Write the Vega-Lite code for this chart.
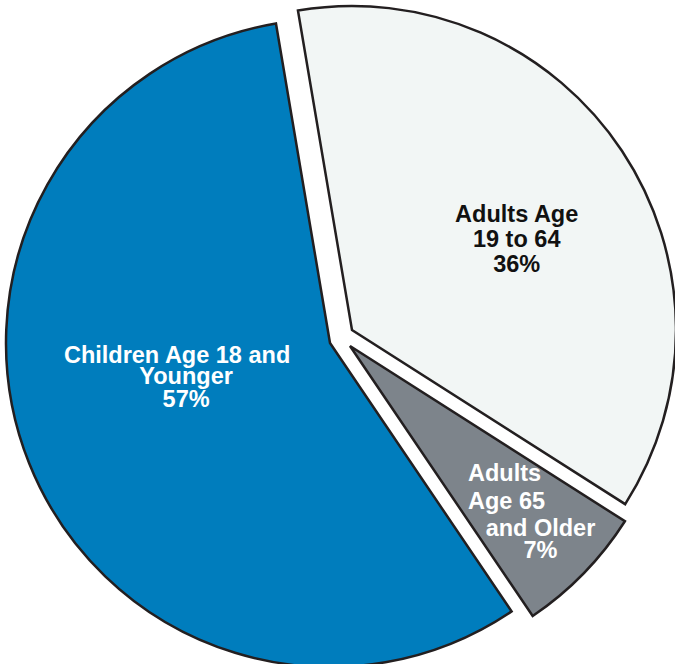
{
  "$schema": "https://vega.github.io/schema/vega-lite/v6.json",
  "width": 680,
  "height": 676,
  "padding": 0,
  "autosize": "none",
  "background": "white",
  "view": {"stroke": null},
  "data": {
    "values": [
      {"category": "Adults Age 19 to 64", "value": 36.7, "label": "Adults Age\n19 to 64\n36%", "label2": ""},
      {"category": "Adults Age 65 and Older", "value": 6.5, "label": "Adults\nAge 65", "label2": "and Older\n7%"},
      {"category": "Children Age 18 and Younger", "value": 56.8, "label": "Children Age 18 and", "label2": "Younger\n57%"}
    ]
  },
  "transform": [
    {"stack": "value", "groupby": [], "sort": [{"field": "category", "order": "ascending"}], "as": ["v0", "v1"]}
  ],
  "layer": [
    {
      "transform": [{"filter": "datum.category === 'Children Age 18 and Younger'"}],
      "mark": {"type": "arc", "radius": 324, "xOffset": -10, "yOffset": 5, "fill": "#007DBD", "stroke": "#231F20", "strokeWidth": 2.5, "strokeJoin": "miter"},
      "encoding": {
        "theta": {"field": "v0", "type": "quantitative", "scale": {"type": "linear", "domain": [0, 100], "range": [-0.1676, 6.1156], "zero": false}},
        "theta2": {"field": "v1"}
      }
    },
    {
      "transform": [{"filter": "datum.category === 'Adults Age 19 to 64'"}],
      "mark": {"type": "arc", "radius": 324, "xOffset": 12, "yOffset": -8, "fill": "#F2F6F5", "stroke": "#231F20", "strokeWidth": 2.5, "strokeJoin": "miter"},
      "encoding": {
        "theta": {"field": "v0", "type": "quantitative", "scale": {"type": "linear", "domain": [0, 100], "range": [-0.1676, 6.1156], "zero": false}},
        "theta2": {"field": "v1"}
      }
    },
    {
      "transform": [{"filter": "datum.category === 'Adults Age 65 and Older'"}],
      "mark": {"type": "arc", "radius": 326, "xOffset": 10, "yOffset": 8, "fill": "#7D848B", "stroke": "#231F20", "strokeWidth": 2.5, "strokeJoin": "miter"},
      "encoding": {
        "theta": {"field": "v0", "type": "quantitative", "scale": {"type": "linear", "domain": [0, 100], "range": [-0.1676, 6.1156], "zero": false}},
        "theta2": {"field": "v1"}
      }
    },
    {
      "mark": {"type": "text", "radius": 200, "dx": 10, "dy": -5.5, "font": "Liberation Sans", "fontWeight": "bold", "fontSize": 23.5, "lineHeight": 25, "align": "center", "baseline": "alphabetic", "lineBreak": "\n", "fill": "#111111"},
      "encoding": {
        "theta": {"field": "value", "type": "quantitative", "stack": true, "scale": {"type": "linear", "domain": [0, 100], "range": [-0.1676, 6.1156], "zero": false}},
        "order": {"field": "category", "sort": "ascending"},
        "text": {"condition": {"test": "datum.category === 'Adults Age 19 to 64'", "field": "label"}, "value": ""}
      }
    },
    {
      "mark": {"type": "text", "radius": 160, "dx": -14.4, "dy": -35, "font": "Liberation Sans", "fontWeight": "bold", "fontSize": 23.5, "lineHeight": 24, "align": "center", "baseline": "alphabetic", "lineBreak": "\n", "fill": "#FFFFFF"},
      "encoding": {
        "theta": {"field": "value", "type": "quantitative", "stack": true, "scale": {"type": "linear", "domain": [0, 100], "range": [-0.1676, 6.1156], "zero": false}},
        "order": {"field": "category", "sort": "ascending"},
        "text": {"condition": {"test": "datum.category === 'Children Age 18 and Younger'", "field": "label"}, "value": ""}
      }
    },
    {
      "mark": {"type": "text", "radius": 160, "dx": -5.4, "dy": -13.9, "font": "Liberation Sans", "fontWeight": "bold", "fontSize": 23.5, "lineHeight": 23.5, "align": "center", "baseline": "alphabetic", "lineBreak": "\n", "fill": "#FFFFFF"},
      "encoding": {
        "theta": {"field": "value", "type": "quantitative", "stack": true, "scale": {"type": "linear", "domain": [0, 100], "range": [-0.1676, 6.1156], "zero": false}},
        "order": {"field": "category", "sort": "ascending"},
        "text": {"condition": {"test": "datum.category === 'Children Age 18 and Younger'", "field": "label2"}, "value": ""}
      }
    },
    {
      "mark": {"type": "text", "radius": 214, "dx": -25.4, "dy": -6.2, "font": "Liberation Sans", "fontWeight": "bold", "fontSize": 23.5, "lineHeight": 28, "align": "left", "baseline": "alphabetic", "lineBreak": "\n", "fill": "#FFFFFF"},
      "encoding": {
        "theta": {"field": "value", "type": "quantitative", "stack": true, "scale": {"type": "linear", "domain": [0, 100], "range": [-0.1676, 6.1156], "zero": false}},
        "order": {"field": "category", "sort": "ascending"},
        "text": {"condition": {"test": "datum.category === 'Adults Age 65 and Older'", "field": "label"}, "value": ""}
      }
    },
    {
      "mark": {"type": "text", "radius": 214, "dx": 47.1, "dy": 48.8, "font": "Liberation Sans", "fontWeight": "bold", "fontSize": 23.5, "lineHeight": 22, "align": "center", "baseline": "alphabetic", "lineBreak": "\n", "fill": "#FFFFFF"},
      "encoding": {
        "theta": {"field": "value", "type": "quantitative", "stack": true, "scale": {"type": "linear", "domain": [0, 100], "range": [-0.1676, 6.1156], "zero": false}},
        "order": {"field": "category", "sort": "ascending"},
        "text": {"condition": {"test": "datum.category === 'Adults Age 65 and Older'", "field": "label2"}, "value": ""}
      }
    }
  ]
}
